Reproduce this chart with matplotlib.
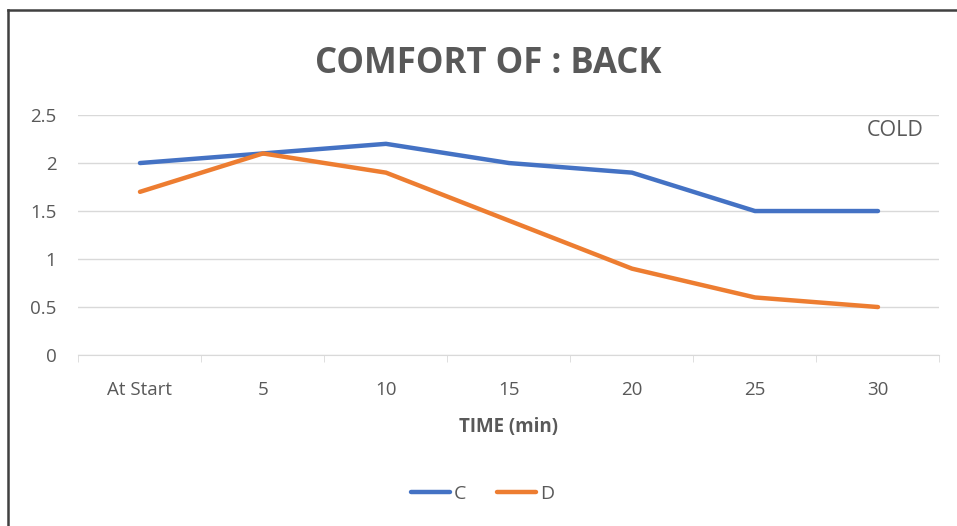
import matplotlib.pyplot as plt
from matplotlib.lines import Line2D
import numpy as np

categories = ['At Start', '5', '10', '15', '20', '25', '30']
c_vals = [2.0, 2.1, 2.2, 2.0, 1.9, 1.5, 1.5]
d_vals = [1.7, 2.1, 1.9, 1.4, 0.9, 0.6, 0.5]

plt.rcParams['font.family'] = ['Open Sans', 'DejaVu Sans']
gray = '#595959'

fig = plt.figure(figsize=(9.57, 5.26), dpi=100)
ax = fig.add_axes([0.082, 0.325, 0.8997, 0.4563])

x = np.arange(len(categories))
ax.plot(x, c_vals, color='#4472C4', lw=3.2, label='C', solid_capstyle='round')
ax.plot(x, d_vals, color='#ED7D31', lw=3.2, label='D', solid_capstyle='round')

ax.set_xlim(-0.5, len(categories) - 0.5)
ax.set_ylim(0, 2.5)
ax.set_yticks([0, 0.5, 1, 1.5, 2, 2.5])
ax.set_yticklabels(['0', '0.5', '1', '1.5', '2', '2.5'])
ax.set_xticks(x)
ax.set_xticklabels(categories)
ax.set_xticks(np.arange(-0.5, len(categories)), minor=True)
ax.tick_params(axis='x', which='major', length=0, pad=19, labelsize=13.5, colors=gray)
ax.tick_params(axis='x', which='minor', length=5, color='#D9D9D9')
ax.tick_params(axis='y', length=0, pad=16, labelsize=13.5, colors=gray)
ax.grid(axis='y', color='#D9D9D9', lw=1)
ax.set_axisbelow(True)
for s in ['top', 'right', 'left']:
    ax.spines[s].set_visible(False)
ax.spines['bottom'].set_color('#D9D9D9')

ax.set_xlabel('TIME (min)', fontsize=13.5, fontweight='bold', color=gray, labelpad=13)
fig.text(0.51, 0.879, 'COMFORT OF : BACK', ha='center', va='center',
         fontsize=25, fontweight='bold', color=gray)
fig.text(0.9655, 0.751, 'COLD', ha='right', va='center', fontsize=15.5, color=gray)

fig.legend(loc='center', bbox_to_anchor=(0.504, 0.061), ncol=2, frameon=False,
           fontsize=14, handlelength=2.0, handletextpad=0.2, columnspacing=1.6,
           labelcolor=gray)

# frame edges visible in the screenshot (left and top)
x0, y0 = 8 / 957, 1 - 10 / 526
fig.lines.append(Line2D([x0, x0], [0, y0], transform=fig.transFigure, color='#404040', lw=1.8))
fig.lines.append(Line2D([x0, 1], [y0, y0], transform=fig.transFigure, color='#404040', lw=1.8))

fig.savefig('out.png', dpi=100)
